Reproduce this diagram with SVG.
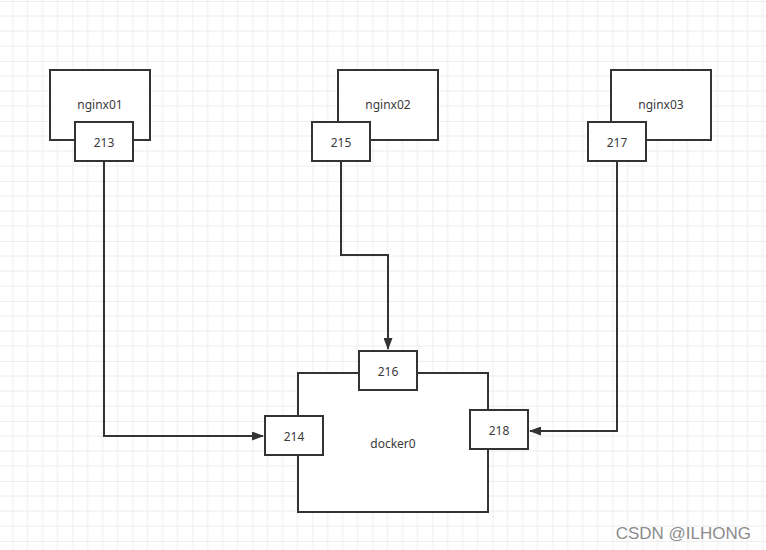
<svg xmlns="http://www.w3.org/2000/svg" width="766" height="550" viewBox="0 0 766 550">
<style>
.box{fill:#fff;stroke:#333;stroke-width:2}
.lbl{font-family:"Noto Sans","Open Sans",sans-serif;font-size:12px;fill:#3a3a3a;text-anchor:middle;dominant-baseline:central}
.conn{fill:none;stroke:#333;stroke-width:2}
</style>
<defs>
<pattern id="g" x="12.5" y="1" width="60" height="60" patternUnits="userSpaceOnUse">
<path d="M15 0V60M30 0V60M45 0V60M0 15H60M0 30H60M0 45H60" stroke="#ececec" stroke-width="1" fill="none"/>
<path d="M0 0V60M0 0H60" stroke="#dedede" stroke-width="1" fill="none"/>
</pattern>
<marker id="ah" viewBox="0 0 12 9" refX="11" refY="4.5" markerWidth="12" markerHeight="9" markerUnits="userSpaceOnUse" orient="auto">
<path d="M0 0L12 4.5L0 9Z" fill="#333"/>
</marker>
</defs>
<rect width="766" height="550" fill="#fff"/>
<rect width="766" height="550" fill="url(#g)"/>
<g id="connectors">
<path class="conn" d="M104 161V436H263" marker-end="url(#ah)"/>
<path class="conn" d="M341 161V255H388V349" marker-end="url(#ah)"/>
<path class="conn" d="M617 161V431H530" marker-end="url(#ah)"/>
</g>
<g id="nginx01">
<rect class="box" x="50" y="70" width="100" height="70"/>
<text class="lbl" x="100" y="104">nginx01</text>
</g>
<g id="port213">
<rect class="box" x="75" y="122" width="58" height="39"/>
<text class="lbl" x="104" y="142">213</text>
</g>
<g id="nginx02">
<rect class="box" x="338" y="70" width="100" height="70"/>
<text class="lbl" x="388" y="104">nginx02</text>
</g>
<g id="port215">
<rect class="box" x="312" y="122" width="58" height="39"/>
<text class="lbl" x="341" y="142">215</text>
</g>
<g id="nginx03">
<rect class="box" x="611" y="70" width="100" height="70"/>
<text class="lbl" x="661" y="104">nginx03</text>
</g>
<g id="port217">
<rect class="box" x="588" y="122" width="58" height="39"/>
<text class="lbl" x="617" y="142">217</text>
</g>
<g id="docker0">
<rect class="box" x="298" y="373" width="190" height="139"/>
<text class="lbl" x="393" y="443">docker0</text>
</g>
<g id="port216">
<rect class="box" x="359" y="351" width="58" height="39"/>
<text class="lbl" x="388" y="371">216</text>
</g>
<g id="port214">
<rect class="box" x="265" y="416" width="58" height="39"/>
<text class="lbl" x="294" y="436">214</text>
</g>
<g id="port218">
<rect class="box" x="470" y="410" width="58" height="39"/>
<text class="lbl" x="499" y="430">218</text>
</g>
<text x="751" y="539" font-family="Liberation Sans, Arial, sans-serif" font-size="17" fill="#8c8c8c" text-anchor="end">CSDN @ILHONG</text>
</svg>
